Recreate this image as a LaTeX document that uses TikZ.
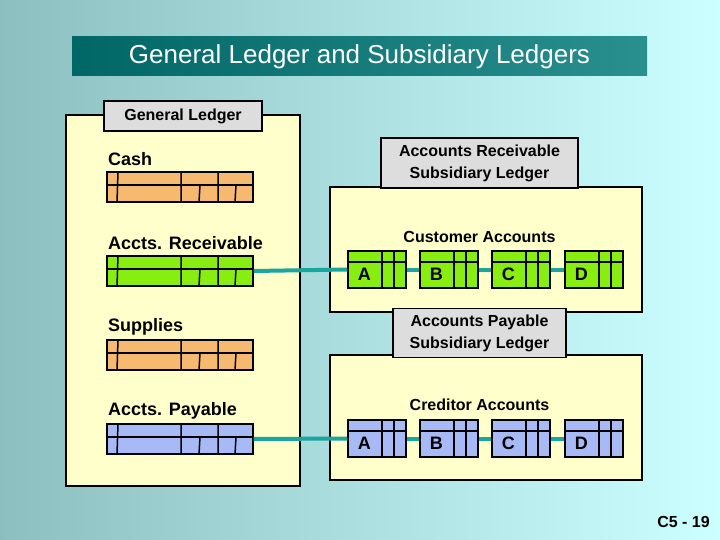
\documentclass[tikz,border=0pt]{standalone}
\usepackage{fontspec}
\setmainfont{Liberation Sans}
\usetikzlibrary{calc}
\definecolor{bgA}{HTML}{8CC0C0}
\definecolor{bgB}{HTML}{CCFFFF}
\definecolor{pan}{HTML}{FFFFCC}
\definecolor{lbl}{HTML}{DDDDDD}
\definecolor{tan}{HTML}{F5B970}
\definecolor{grn}{HTML}{88EE11}
\definecolor{blu}{HTML}{A8BAF5}
\definecolor{conn}{HTML}{1AA59E}
\definecolor{ttlA}{HTML}{006666}
\definecolor{ttlB}{HTML}{2A8F8F}
\tikzset{
 panel/.style={draw=black,line width=1.5pt,fill=pan},
 lblbox/.style={draw=black,line width=1.5pt,fill=lbl,font=\bfseries\fontsize{16}{19}\selectfont,align=center,inner sep=0pt},
 glname/.style={anchor=west,font=\bfseries\fontsize{18}{20}\selectfont,inner sep=0pt},
 tacct/.style={draw=black,line width=1.5pt,fill=#1,minimum width=146pt,minimum height=30pt,inner sep=0pt,
  path picture={
   \coordinate (nw) at (path picture bounding box.north west);
   \draw[line width=1.5pt] ($(nw)+(0,13)$) -- ++(146,0);
   \draw[line width=1.5pt] ($(nw)+(74,0)$) -- ++(0,30) ($(nw)+(111,0)$) -- ++(0,30)
     ($(nw)+(11,0)$) -- ++(-1,30) ($(nw)+(93,13)$) -- ++(-1,17) ($(nw)+(129,13)$) -- ++(-1,17);}},
 macct/.style={draw=black,line width=1.5pt,fill=#1,minimum width=58pt,minimum height=37pt,inner sep=0pt,
  path picture={
   \coordinate (nw) at (path picture bounding box.north west);
   \draw[line width=1.5pt] ($(nw)+(0,11)$) -- ++(58,0);
   \draw[line width=1.5pt] ($(nw)+(34,0)$) -- ++(0,37) ($(nw)+(46,0)$) -- ++(0,37);}},
 lettxt/.style={font=\bfseries\fontsize{18}{20}\selectfont,inner sep=0pt},
 subtxt/.style={font=\bfseries\fontsize{16}{19}\selectfont,inner sep=0pt},
 link/.style={draw=conn,line width=4pt},
}
\begin{document}
\begin{tikzpicture}[x=1pt,y=-1pt]
\useasboundingbox (0,0) rectangle (720,540);
\shade[shading angle=45,left color=bgA,right color=bgB] (0,0) rectangle (720,540);
% title
\shade[left color=ttlA,right color=ttlB] (72,37) rectangle (647,76);
\node (title) at (359.5,57) [text=white,font=\fontsize{26}{30}\selectfont] {General Ledger and Subsidiary Ledgers};
% general ledger panel
\draw[panel] (66,115) rectangle (300,486);
\node[lblbox,minimum width=158pt,minimum height=30pt] (gl) at (183,116) {General Ledger};
\node[glname] (ncash) at (108,159) {Cash};
\node[glname] (nar) at (108,243) {Accts. Receivable};
\node[glname] (nsup) at (108,327) {Supplies};
\node[glname] (nap) at (108,411) {Accts. Payable};
\node[tacct=tan] (cash) at (180,187) {};
\node[tacct=grn] (ar) at (180,271) {};
\node[tacct=tan] (sup) at (180,355) {};
\node[tacct=blu] (ap) at (180,439) {};
% subsidiary panels
\draw[panel] (330,187) rectangle (642,312);
\draw[panel] (330,355) rectangle (642,480);
\node[lblbox,minimum width=197pt,minimum height=50pt] (arl) at (479.5,163) {Accounts Receivable\\[3pt]Subsidiary Ledger};
\node[lblbox,minimum width=173pt,minimum height=49pt] (apl) at (479.5,333) {Accounts Payable\\[3pt]Subsidiary Ledger};
\node[subtxt] (ca) at (479.5,237) {Customer Accounts};
\node[subtxt] (cr) at (479.5,405) {Creditor Accounts};
\foreach \n/\x in {A/377,B/449,C/521,D/594}{
 \node[macct=grn] (r\n) at (\x,269.5) {};
 \node[lettxt] at ($(r\n.north west)+(17,24)$) {\n};
 \node[macct=blu] (p\n) at (\x,438.5) {};
 \node[lettxt] at ($(p\n.north west)+(17,24)$) {\n};
}
\draw[link] (ar.east) -- (rA.west);
\draw[link] (ap.east) -- (pA.west);
\draw[link] (rA.east) -- (rB.west) (rB.east) -- (rC.west) (rC.east) -- (rD.west);
\draw[link] (pA.east) -- (pB.west) (pB.east) -- (pC.west) (pC.east) -- (pD.west);
\node[subtxt,anchor=east] (pg) at (710,522) {C5 - 19};
\end{tikzpicture}
\end{document}
